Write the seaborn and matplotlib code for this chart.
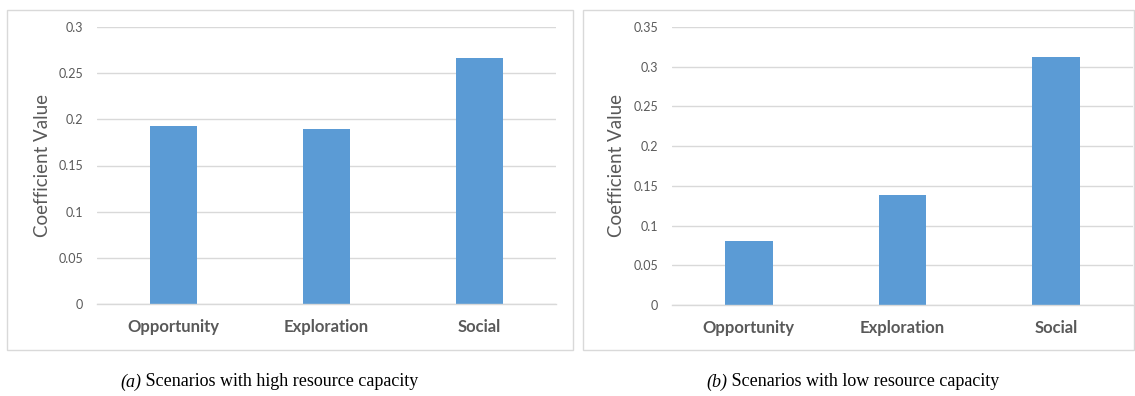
import matplotlib
matplotlib.use("Agg")
import matplotlib.pyplot as plt
from matplotlib.patches import Rectangle
from matplotlib.ticker import FuncFormatter
import seaborn as sns
import pandas as pd

categories = ["Opportunity", "Exploration", "Social"]
high_capacity = [0.193, 0.189, 0.266]
low_capacity = [0.081, 0.138, 0.312]
high_ticks = [0, 0.05, 0.1, 0.15, 0.2, 0.25, 0.3]
low_ticks = [0, 0.05, 0.1, 0.15, 0.2, 0.25, 0.3, 0.35]
captions = ["(a)", "(b)"]
caption_texts = [" Scenarios with high resource capacity", " Scenarios with low resource capacity"]

sns.set_theme(style="white")
plt.rcParams["font.family"] = ["Lato", "DejaVu Sans"]

W, H = 1135, 396
fig = plt.figure(figsize=(W / 100, H / 100), dpi=100)
fig.patch.set_facecolor("white")

BAR = "#5B9BD5"
GRID = "#d9d9d9"
TXT = "#595959"


def fx(px):
    return px / W


def fy(py):
    return 1 - py / H


# panel frames
for x0, x1 in [(7, 573), (583, 1134)]:
    fig.patches.append(Rectangle((fx(x0), fy(350)), fx(x1 - x0), (350 - 10) / H,
                                 transform=fig.transFigure, fill=False,
                                 edgecolor=GRID, linewidth=1.0))

panels = [
    (high_capacity, high_ticks, (97, 556, 27, 304), 42),
    (low_capacity, low_ticks, (672, 1133, 27, 305), 617),
]

for vals, ticks, (l, r, t, b), lab_x in panels:
    ax = fig.add_axes([fx(l), fy(b), fx(r - l), (b - t) / H])
    df = pd.DataFrame({"category": categories, "value": vals})
    sns.barplot(data=df, x="category", y="value", color=BAR, width=0.31,
                saturation=1, ax=ax, edgecolor="none")
    ax.set_ylim(0, ticks[-1])
    ax.set_xlim(-0.5, 2.5)
    ax.set_yticks(ticks)
    ax.yaxis.set_major_formatter(FuncFormatter(lambda v, p: f"{v:g}"))
    ax.grid(axis="y", color=GRID, linewidth=1.0)
    ax.set_axisbelow(True)
    for s in ["top", "right", "left"]:
        ax.spines[s].set_visible(False)
    ax.spines["bottom"].set_color(GRID)
    ax.spines["bottom"].set_linewidth(1.0)
    ax.tick_params(axis="y", length=0, pad=10, labelsize=9, labelcolor=TXT)
    ax.tick_params(axis="x", length=0, pad=11, labelsize=12, labelcolor=TXT)
    for tl in ax.get_xticklabels():
        tl.set_fontweight("bold")
    ax.set_xlabel("")
    ax.set_ylabel("")
    fig.text(fx(lab_x), fy(165), "Coefficient Value", rotation=90,
             ha="center", va="center", fontsize=13.5, color=TXT)

# captions below each panel: italic panel letter followed by upright text
for x0, cap, txt in zip([120, 706], captions, caption_texts):
    t1 = fig.text(fx(x0), fy(382), cap, ha="left", va="center", fontsize=13,
                  color="black", family="Liberation Serif", style="italic")
    fig.add_artist(matplotlib.text.Annotation(
        txt, xy=(1.0, 0.5), xycoords=t1, ha="left", va="center",
        fontsize=13, color="black", family="Liberation Serif",
        annotation_clip=False))

fig.savefig("out.png", dpi=100, facecolor="white")
